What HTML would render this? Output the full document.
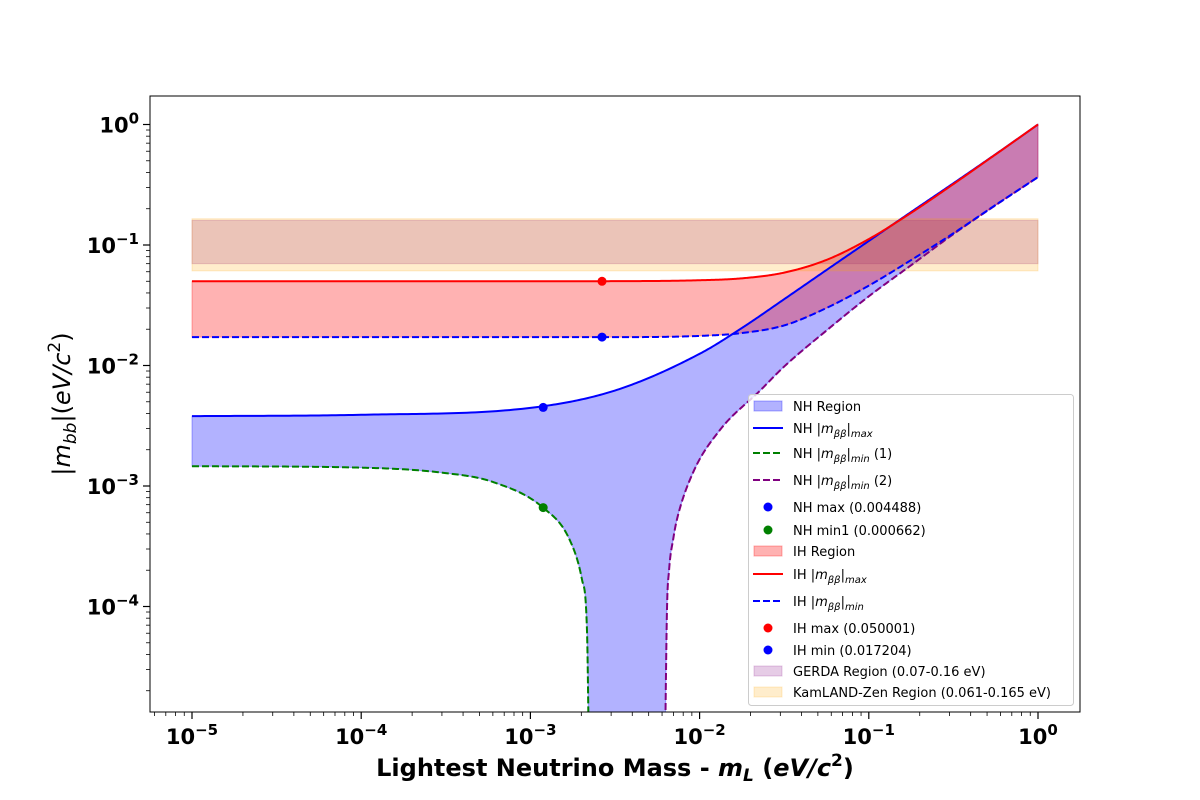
<!DOCTYPE html>
<html><head><meta charset="utf-8"><style>
html,body{margin:0;padding:0;background:#fff;}
svg{display:block;font-family:"DejaVu Sans","Liberation Sans",sans-serif;}
</style></head><body>
<svg id="chart" width="1200" height="800" viewBox="0 0 1200 800" xmlns="http://www.w3.org/2000/svg"></svg>
<script>
// ---- data (eV) ----
const ihMass   = [1e-5,1e-4,1e-3,0.00316,0.01,0.0178,0.0316,0.0562,0.1,0.178,0.316,0.562,1.0];
const ihMax    = [0.050,0.050,0.0500,0.0501,0.051,0.0529,0.059,0.0752,0.112,0.185,0.32,0.565,1.0];
const ihMin    = [0.0172,0.0172,0.0172,0.0172,0.0176,0.0186,0.0215,0.0300,0.046,0.075,0.125,0.215,0.366];
const nhMass   = [1e-5,1e-4,1e-3,0.00316,0.01,0.0178,0.0316,0.0562,0.1,0.178,0.316,0.562,1.0];
const nhMax    = [0.0038,0.0039,0.00445,0.0062,0.0125,0.0205,0.0355,0.062,0.108,0.188,0.325,0.567,1.0];
const min1Mass = [1e-5,1e-4,3.16e-4,6.0e-4,1.19e-3,1.71e-3,2.02e-3,2.16e-3,2.23e-3];
const min1Val  = [0.00146,0.00142,0.00128,0.00108,0.00066,0.000355,0.000166,0.000063,0.000003];
const min2Mass = [0.00621,0.00641,0.0066,0.0070,0.00734,0.00914,0.0132,0.0228,0.0316,0.0562,0.1,0.178,0.316,0.562,1.0];
const min2Val  = [0.000003,0.000089,0.0002,0.00037,0.000525,0.00129,0.00292,0.0062,0.0098,0.0195,0.0375,0.068,0.123,0.214,0.366];
const dotMass  = [0.00119,0.00119,0.00265,0.00265];
const dotVal   = [0.004488,0.000662,0.050001,0.017204];
const dotColor = ['#0000ff','#008000','#ff0000','#0000ff'];
const gerda    = [0.07,0.16];
const kamland  = [0.061,0.165];
const xTicks   = [-5,-4,-3,-2,-1,0];
const yTicks   = [-4,-3,-2,-1,0];

const NS='http://www.w3.org/2000/svg';
const svg=document.getElementById('chart');
const L=150,R=1080,T=96,B=712;
const X=v=>192+(Math.log10(v)+5)*169.2;
const Y=v=>124.5-Math.log10(v)*120.5;
function mk(tag,attrs,parent){const e=document.createElementNS(NS,tag);for(const k in attrs)e.setAttribute(k,attrs[k]);(parent||svg).appendChild(e);return e;}
// monotone cubic (Fritsch-Carlson) in log-log space
function smooth(ms,vs){
  const x=ms.map(Math.log10),y=vs.map(Math.log10),n=x.length;
  const d=[],m=new Array(n);
  for(let i=0;i<n-1;i++)d.push((y[i+1]-y[i])/(x[i+1]-x[i]));
  m[0]=d[0];m[n-1]=d[n-2];
  for(let i=1;i<n-1;i++){m[i]=(d[i-1]*d[i]<=0)?0:(d[i-1]+d[i])/2;}
  for(let i=0;i<n-1;i++){if(d[i]===0){m[i]=0;m[i+1]=0;continue;}
    const a=m[i]/d[i],b=m[i+1]/d[i],s=a*a+b*b;if(s>9){const t=3/Math.sqrt(s);m[i]=t*a*d[i];m[i+1]=t*b*d[i];}}
  const out=[];
  for(let i=0;i<n-1;i++){const h=x[i+1]-x[i];
    for(let k=0;k<40;k++){const t=k/40,t2=t*t,t3=t2*t;
      const yy=(2*t3-3*t2+1)*y[i]+(t3-2*t2+t)*h*m[i]+(-2*t3+3*t2)*y[i+1]+(t3-t2)*h*m[i+1];
      const xx=x[i]+t*h;out.push([X(Math.pow(10,xx)),Y(Math.pow(10,yy))]);}}
  out.push([X(ms[n-1]),Y(vs[n-1])]);return out;}
const pts=a=>a.map(q=>q[0].toFixed(2)+','+q[1].toFixed(2)).join(' ');

mk('defs',{}).innerHTML='<clipPath id="clip"><rect x="150" y="96" width="930" height="616"/></clipPath>';
const g=mk('g',{'clip-path':'url(#clip)'});

const sNhMax=smooth(nhMass,nhMax),sIhMax=smooth(ihMass,ihMax),sIhMin=smooth(ihMass,ihMin);
const sMin1=smooth(min1Mass,min1Val),sMin2=smooth(min2Mass,min2Val);

let e=mk('polygon',{points:pts(sNhMax.concat(sMin2.slice().reverse(),[[X(min2Mass[0]),800],[X(min1Mass[min1Mass.length-1]),800]],sMin1.slice().reverse())),fill:'#0000ff','fill-opacity':'0.3',stroke:'#0000ff','stroke-opacity':'0.3'},g);


e=mk('polygon',{points:pts(sIhMax.concat(sIhMin.slice().reverse())),fill:'#ff0000','fill-opacity':'0.3',stroke:'#ff0000','stroke-opacity':'0.3'},g);


e=mk('rect',{x:X(1e-5),y:Y(gerda[1]),width:X(1)-X(1e-5),height:Y(gerda[0])-Y(gerda[1]),fill:'#800080','fill-opacity':'0.2',stroke:'#800080','stroke-opacity':'0.2'},g);


e=mk('rect',{x:X(1e-5),y:Y(kamland[1]),width:X(1)-X(1e-5),height:Y(kamland[0])-Y(kamland[1]),fill:'#ffa500','fill-opacity':'0.2',stroke:'#ffa500','stroke-opacity':'0.2'},g);


function line(s,col,dash,name){const l=mk('polyline',{points:pts(s),fill:'none',stroke:col,'stroke-width':'2','stroke-dasharray':dash||'none'},g);
  
  }
line(sNhMax,'#0000ff',null,'nh-max-line');
line(sMin1,'#008000','7,3','nh-min1-line');
line(sMin2,'#800080','7,3','nh-min2-line');
line(sIhMax,'#ff0000',null,'ih-max-line');
line(sIhMin,'#0000ff','7,3','ih-min-line');
dotMass.forEach((m,i)=>{const c=mk('circle',{cx:X(m),cy:Y(dotVal[i]),r:4.5,fill:dotColor[i]},g);
  
  });

e=mk('rect',{x:L,y:T,width:R-L,height:B-T,fill:'none',stroke:'#000','stroke-width':'1'});


for(let d=-6;d<=0;d++)for(let k=1;k<10;k++){const v=k*Math.pow(10,d);const px=X(v);if(px<L||px>R)continue;
  mk('line',{x1:px,x2:px,y1:B,y2:B+(k==1?7:4),stroke:'#000','stroke-width':k==1?1.2:0.8});}
xTicks.forEach(t=>{const tx=mk('text',{x:X(Math.pow(10,t)),y:744,'text-anchor':'middle','font-size':'21','font-weight':'bold'});
  tx.innerHTML=t===0?'10<tspan dy="-9" font-size="15">0</tspan>':'10<tspan dy="-9" font-size="15">\u2212'+(-t)+'</tspan>';
  
  });
for(let d=-5;d<=0;d++)for(let k=1;k<10;k++){const v=k*Math.pow(10,d);const py=Y(v);if(py<T||py>B)continue;
  mk('line',{x1:L,x2:L-(k==1?7:4),y1:py,y2:py,stroke:'#000','stroke-width':k==1?1.2:0.8});}
yTicks.forEach(t=>{const ty=mk('text',{x:139,y:Y(Math.pow(10,t))+8,'text-anchor':'end','font-size':'21','font-weight':'bold'});
  ty.innerHTML=t===0?'10<tspan dy="-9" font-size="15">0</tspan>':'10<tspan dy="-9" font-size="15">\u2212'+(-t)+'</tspan>';
  
  });
e=mk('text',{x:615,y:776,'text-anchor':'middle','font-size':'24','font-weight':'bold'});
e.innerHTML='Lightest Neutrino Mass - <tspan font-style="italic">m</tspan><tspan font-size="17" dy="5" font-style="italic">L</tspan><tspan dy="-5"> (</tspan><tspan font-style="italic">eV/c</tspan><tspan font-size="17" dy="-10">2</tspan><tspan dy="10">)</tspan>';


e=mk('text',{transform:'translate(70,404) rotate(-90)','text-anchor':'middle','font-size':'24'});
e.innerHTML='|<tspan font-style="italic">m</tspan><tspan font-size="17" dy="6" font-style="italic">bb</tspan><tspan dy="-6">|(</tspan><tspan font-style="italic">eV/c</tspan><tspan font-size="17" dy="-10">2</tspan><tspan dy="10">)</tspan>';



const lg=mk('g',{});


mk('rect',{x:748.5,y:394.5,width:325,height:311,rx:3,fill:'#fff','fill-opacity':'0.8',stroke:'#ccc'},lg);
const mb='|<tspan font-style="italic">m</tspan><tspan font-size="10" dy="4" font-style="italic">ββ</tspan><tspan dy="-4">|</tspan>';
const sub=s=>'<tspan font-size="10" dy="4" font-style="italic">'+s+'</tspan>';
const entries=[
 ['patch','#0000ff',406,'NH Region'],
 ['line','#0000ff',428,'NH '+mb+sub('max')],
 ['dash','#008000',453,'NH '+mb+sub('min')+'<tspan dy="-4"> (1)</tspan>'],
 ['dash','#800080',480,'NH '+mb+sub('min')+'<tspan dy="-4"> (2)</tspan>'],
 ['dot','#0000ff',507,'NH max (0.004488)'],
 ['dot','#008000',530,'NH min1 (0.000662)'],
 ['patch','#ff0000',551,'IH Region'],
 ['line','#ff0000',574,'IH '+mb+sub('max')],
 ['dash','#0000ff',601,'IH '+mb+sub('min')],
 ['dot','#ff0000',628,'IH max (0.050001)'],
 ['dot','#0000ff',650,'IH min (0.017204)'],
 ['patch2','#800080',671,'GERDA Region (0.07-0.16 eV)'],
 ['patch2','#ffa500',692,'KamLAND-Zen Region (0.061-0.165 eV)']];
entries.forEach(en=>{const [k,c,y,t]=en;
  if(k==='patch'||k==='patch2')mk('rect',{x:754,y:y-5,width:28,height:10,fill:c,'fill-opacity':k==='patch'?0.3:0.2,stroke:c,'stroke-opacity':k==='patch'?0.3:0.2},lg);
  else if(k==='dot')mk('circle',{cx:768,cy:y,r:4.5,fill:c},lg);
  else mk('line',{x1:753,x2:783,y1:y,y2:y,stroke:c,'stroke-width':2,'stroke-dasharray':k==='dash'?'7,3':'none'},lg);
  const tx=mk('text',{x:793,y:y+5,'font-size':'13'},lg);tx.innerHTML=t;
  
  });
</script>
</body></html>
